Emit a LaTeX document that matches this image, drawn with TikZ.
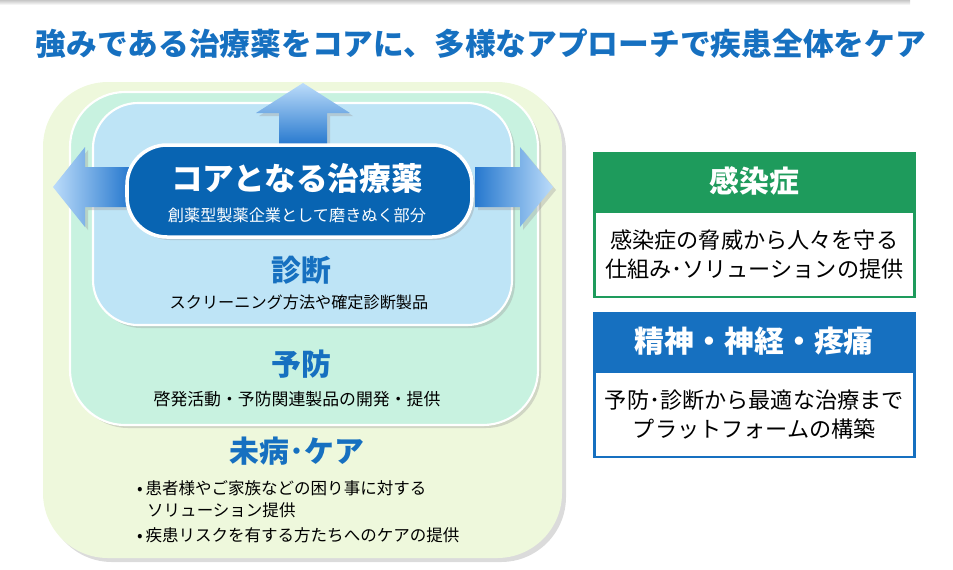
\documentclass[tikz,border=0pt]{standalone}
\usepackage{fontspec}
\setmainfont{Noto Sans CJK JP}
\usepackage{xcolor}
\usepackage{tikz}
\usetikzlibrary{positioning,calc}
\definecolor{titleblue}{RGB}{22,112,192}
\definecolor{coreblue}{RGB}{8,100,178}
\definecolor{careback}{RGB}{238,248,220}
\definecolor{prevback}{RGB}{200,242,224}
\definecolor{diagback}{RGB}{190,228,246}
\definecolor{infgreen}{RGB}{30,155,92}
\definecolor{arrowlight}{RGB}{188,220,250}
\definecolor{arrowdark}{RGB}{38,120,206}

\begin{document}
\begin{tikzpicture}[x=0.02cm,y=-0.02cm,
            layer/.style={fill=#1, draw=white, line width=1.2pt},
            shadowed/.style={fill=black!40, opacity=0.35},
            heading/.style={text=titleblue, font=\bfseries\fontsize{17}{20}\selectfont},
            note/.style={font=\fontsize{9.2}{12}\selectfont},
            cardhead/.style={rectangle, draw=#1, fill=#1, line width=1.5pt, text=white, font=\bfseries\fontsize{17}{20}\selectfont, minimum width=6.4cm, minimum height=1.12cm, anchor=north west},
            cardbody/.style={rectangle, draw=#1, fill=white, line width=1.5pt, align=center, font=\fontsize{12.6}{16.4}\selectfont, minimum width=6.4cm, minimum height=1.7cm}]
            \useasboundingbox (0,0) rectangle (953,569);
            \shade[top color=black!22, bottom color=white] (0,0) rectangle (910,5);

            % Title
            \node[text=titleblue, font=\bfseries\fontsize{17.5}{21}\selectfont] (title) at (481,44) {強みである治療薬をコアに、多様なアプローチで疾患全体をケア};

            % Layers
            \fill[shadowed, rounded corners=1.3cm] (47,86) rectangle (566,562);
            \fill[careback, rounded corners=1.3cm] (43,82) rectangle (562,558);
            \fill[shadowed, rounded corners=1.1cm] (73,95) rectangle (541,428);
            \draw[layer=prevback, rounded corners=1.1cm] (70,92) rectangle (538,425);
            \fill[shadowed, rounded corners=0.9cm] (96,106) rectangle (515,328);
            \draw[layer=diagback, rounded corners=0.9cm] (93,103) rectangle (512,325);

            % Arrows
            \fill[shadowed] (306,86) -- (353,116) -- (330,116) -- (330,146) -- (282,146) -- (282,116) -- (259,116) -- cycle;
            \shade[top color=arrowlight, bottom color=arrowdark] (303,83) -- (350,113) -- (327,113) -- (327,145) -- (279,145) -- (279,113) -- (256,113) -- cycle;
            \fill[shadowed] (56,190) -- (88,150) -- (88,170) -- (130,170) -- (130,210) -- (88,210) -- (88,230) -- cycle;
            \shade[left color=arrowlight, right color=arrowdark] (53,187) -- (85,147) -- (85,167) -- (130,167) -- (130,207) -- (85,207) -- (85,227) -- cycle;
            \fill[shadowed] (478,170) -- (523,170) -- (523,150) -- (556,190) -- (523,230) -- (523,210) -- (478,210) -- cycle;
            \shade[left color=arrowdark, right color=arrowlight] (475,167) -- (520,167) -- (520,147) -- (553,187) -- (520,227) -- (520,207) -- (475,207) -- cycle;

            % Core
            \fill[shadowed, rounded corners=0.8cm] (130,148) rectangle (475,240);
            \draw[fill=coreblue, draw=white, line width=2pt, rounded corners=0.8cm] (127,145) rectangle (472,237);
            \node[text=white, font=\bfseries\fontsize{18}{22}\selectfont] (core) at (297,178) {コアとなる治療薬};
            \node[text=white, note] (coresub) at (297,215) {創薬型製薬企業として磨きぬく部分};

            % Labels
            \node[heading] (diag) at (301,270) {診断};
            \node[note] (diagsub) at (299,302) {スクリーニング方法や確定診断製品};
            \node[heading] (prev) at (301,364) {予防};
            \node[note, font=\fontsize{9.6}{12}\selectfont] (prevsub) at (297,399) {啓発活動・予防関連製品の開発・提供};
            \node[heading] (care) at (297,451) {未病･ケア};
            \node[note, font=\fontsize{9.4}{12}\selectfont, anchor=west] (care1) at (131,488) {•\,患者様やご家族などの困り事に対する};
            \node[note, font=\fontsize{9.4}{12}\selectfont, anchor=west] (care2) at (141,510) {ソリューション提供};
            \node[note, font=\fontsize{9.4}{12}\selectfont, anchor=west] (care3) at (131,535) {•\,疾患リスクを有する方たちへのケアの提供};

            % Cards
            \node[cardhead=infgreen] (infhead) at (593,152) {感染症};
            \node[cardbody=infgreen, below=0pt of infhead] (infbody) {感染症の脅威から人々を守る\\仕組み･ソリューションの提供};
            \node[cardhead=titleblue] (neurohead) at (593,312) {精神・神経・疼痛};
            \node[cardbody=titleblue, below=0pt of neurohead] (neurobody) {予防･診断から最適な治療まで\\プラットフォームの構築};
        \end{tikzpicture}
\end{document}
